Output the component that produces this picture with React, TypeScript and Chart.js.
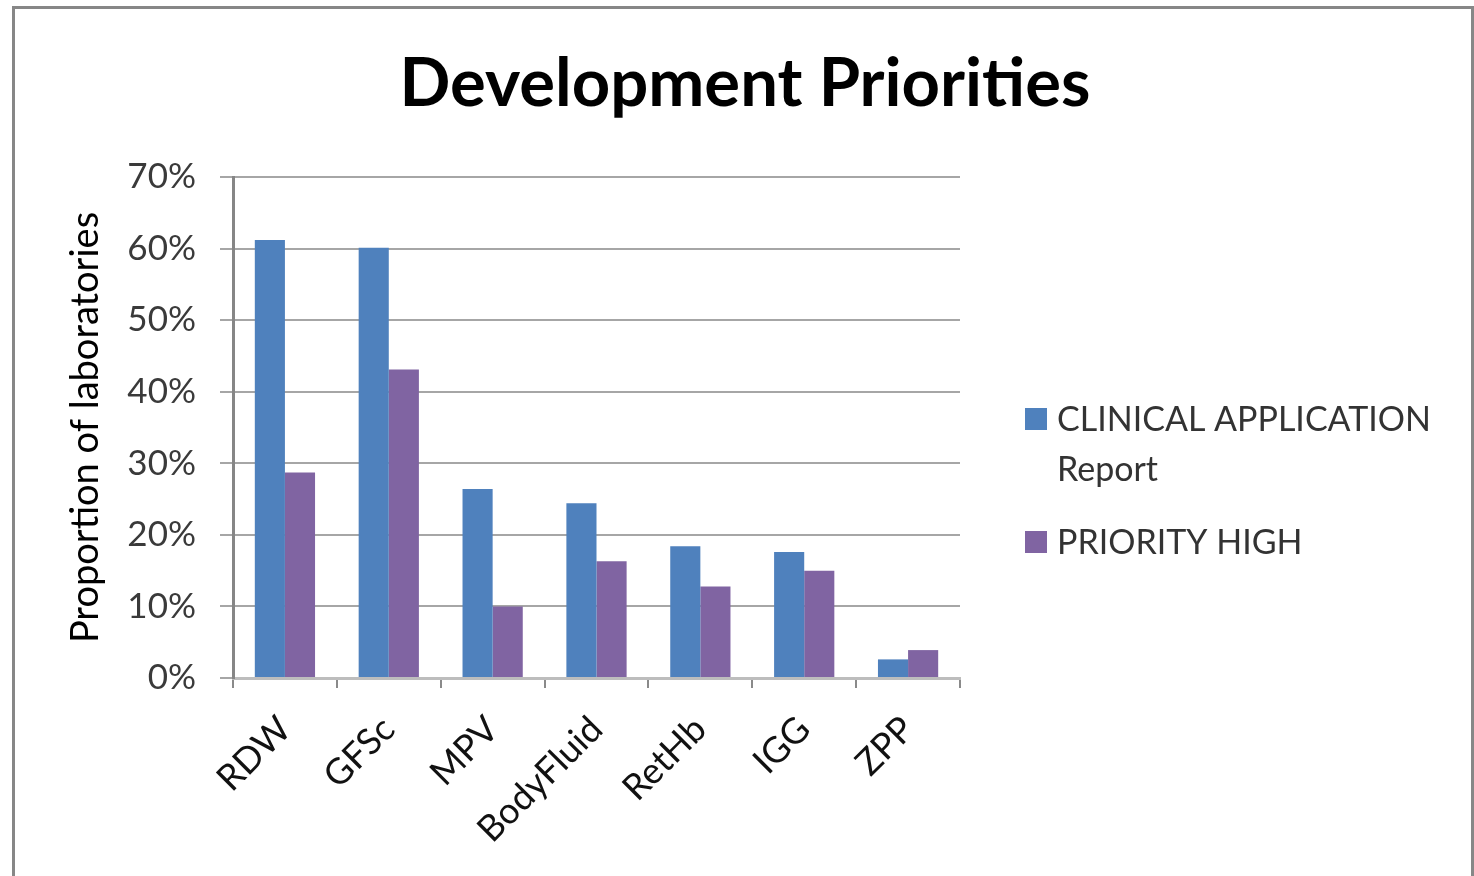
import React, { useEffect, useRef } from "react";
import { Chart, registerables } from "chart.js";

Chart.register(...registerables);

const categories = ["RDW", "GFSc", "MPV", "BodyFluid", "RetHb", "IGG", "ZPP"];
const clinicalApplication = [61.2, 60.1, 26.4, 24.4, 18.4, 17.6, 2.6];
const priorityHigh = [28.7, 43.1, 10.0, 16.3, 12.8, 15.0, 3.9];
const yTicks = [0, 10, 20, 30, 40, 50, 60, 70];

const seriesNames = [["CLINICAL APPLICATION", "Report"], ["PRIORITY HIGH"]];
const seriesColors = ["#4f81bd", "#8064a2"];
const chartTitle = "Development Priorities";
const yAxisTitle = "Proportion of laboratories";

const FONT = "Lato, 'Open Sans', sans-serif";

// Frame, title and a right-hand legend with wrapped entries
const decorations = {
  id: "decorations",
  beforeDraw(chart: Chart) {
    const ctx = chart.ctx;
    ctx.save();
    ctx.fillStyle = "#ffffff";
    ctx.fillRect(0, 0, chart.width, chart.height);
    ctx.strokeStyle = "#878787";
    ctx.lineWidth = 3;
    ctx.beginPath();
    ctx.moveTo(13.5, chart.height + 2);
    ctx.lineTo(13.5, 7.5);
    ctx.lineTo(1472.5, 7.5);
    ctx.lineTo(1472.5, chart.height + 2);
    ctx.stroke();
    ctx.restore();
  },
  afterDraw(chart: Chart) {
    const ctx = chart.ctx;
    ctx.save();
    ctx.fillStyle = "#000000";
    ctx.font = `bold 67px ${FONT}`;
    ctx.textAlign = "center";
    ctx.textBaseline = "alphabetic";
    ctx.fillText(chartTitle, 745, 106);

    ctx.font = `34px ${FONT}`;
    ctx.textAlign = "left";
    let y = 408;
    chart.data.datasets.forEach((ds, i) => {
      ctx.fillStyle = ds.backgroundColor as string;
      ctx.fillRect(1025, y, 22, 22);
      ctx.fillStyle = "#333333";
      const lines = seriesNames[i];
      lines.forEach((line, j) => {
        ctx.fillText(line, 1057, y + 23 + j * 50);
      });
      y += 50 * lines.length + 23;
    });
    ctx.restore();
  },
};

export default function App() {
  const canvasRef = useRef<HTMLCanvasElement>(null);

  useEffect(() => {
    document.body.style.margin = "0";
    const canvas = canvasRef.current;
    if (!canvas) return;
    const chart = new Chart(canvas, {
      type: "bar",
      data: {
        labels: categories,
        datasets: [
          {
            label: seriesNames[0].join(" "),
            data: clinicalApplication,
            backgroundColor: seriesColors[0],
            categoryPercentage: 0.58,
            barPercentage: 1,
          },
          {
            label: seriesNames[1].join(" "),
            data: priorityHigh,
            backgroundColor: seriesColors[1],
            categoryPercentage: 0.58,
            barPercentage: 1,
          },
        ],
      },
      options: {
        responsive: false,
        animation: false,
        layout: { padding: { left: 16, top: 177, right: 514, bottom: 0 } },
        plugins: {
          legend: { display: false },
          title: { display: false },
          tooltip: { enabled: false },
        },
        scales: {
          x: {
            grid: {
              drawOnChartArea: false,
              drawTicks: true,
              tickLength: 10,
              color: "#8a8a8a",
              lineWidth: 2,
            },
            border: { color: "#bdbdbd", width: 3 },
            ticks: {
              font: { family: FONT, size: 36 },
              color: "#111111",
              minRotation: 45,
              maxRotation: 45,
              padding: 20,
            },
            afterFit(scale: any) {
              scale.height = 198;
            },
          },
          y: {
            min: 0,
            max: 70,
            afterBuildTicks(scale: any) {
              scale.ticks = yTicks.map((v) => ({ value: v }));
            },
            grid: {
              color: "#a6a6a6",
              lineWidth: 2,
              tickLength: 13,
            },
            border: { color: "#868686", width: 3 },
            ticks: {
              font: { family: FONT, size: 35 },
              color: "#3a3a3a",
              padding: 24,
              callback: (v: any) => `${v}%`,
            },
            title: {
              display: true,
              text: yAxisTitle,
              font: { family: FONT, size: 38 },
              color: "#000000",
              padding: { top: 47, bottom: 0 },
            },
            afterFit(scale: any) {
              scale.width = 217;
            },
          },
        },
      },
      plugins: [decorations],
    });
    return () => chart.destroy();
  }, []);

  return (
    <div style={{ width: 1474, height: 876 }}>
      <canvas ref={canvasRef} width={1474} height={876} />
    </div>
  );
}
